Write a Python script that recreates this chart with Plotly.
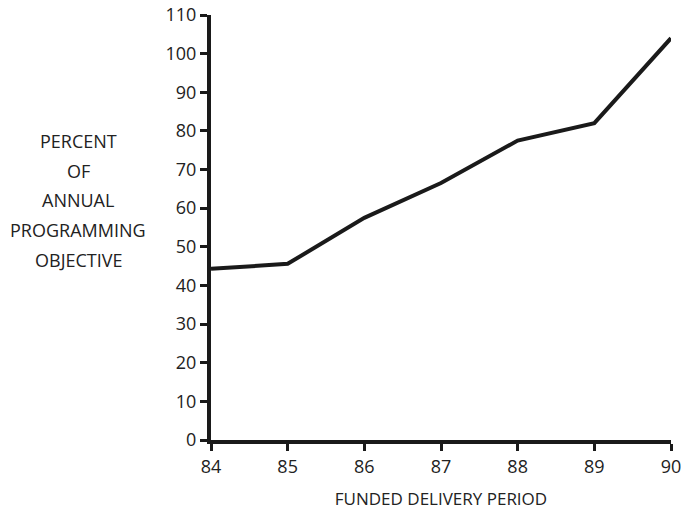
import plotly.graph_objects as go

periods = [84, 85, 86, 87, 88, 89, 90]
percent = [44.3, 45.6, 57.5, 66.5, 77.5, 82, 104]
y_ticks = list(range(0, 111, 10))
y_label_lines = ["PERCENT", "OF", "ANNUAL", "PROGRAMMING", "OBJECTIVE"]

FONT = dict(family="Open Sans, Noto Sans, Arial, sans-serif", size=18, color="#222222")

fig = go.Figure(go.Scatter(
    x=periods, y=percent, mode="lines",
    line=dict(color="#1a1a1a", width=4),
    cliponaxis=False, hoverinfo="skip"
))

fig.update_layout(
    width=682, height=511,
    margin=dict(l=211, r=11, t=15, b=71),
    paper_bgcolor="white", plot_bgcolor="white",
    font=FONT, showlegend=False,
    xaxis=dict(
        range=[84, 90], tickvals=periods, ticks="outside", ticklen=7, tickwidth=3,
        tickcolor="#1a1a1a", showline=True, linecolor="#1a1a1a", linewidth=4,
        showgrid=False, zeroline=False, tickfont=FONT, automargin=False,
        ticklabeloverflow="allow",
        title=dict(text="FUNDED DELIVERY PERIOD", font=dict(FONT, size=17), standoff=18),
    ),
    yaxis=dict(
        range=[0, 110], tickvals=y_ticks, ticks="outside", ticklen=7, tickwidth=3,
        tickcolor="#1a1a1a", showline=True, linecolor="#1a1a1a", linewidth=4,
        showgrid=False, zeroline=False, tickfont=FONT, automargin=False,
        ticklabeloverflow="allow",
    ),
)

# multi-line y label, one annotation per line (~30px spacing)
for i, txt in enumerate(y_label_lines):
    fig.add_annotation(
        text=txt, xref="paper", yref="paper",
        x=-0.289, y=0.704 - i * 0.07, xanchor="center", yanchor="middle",
        showarrow=False, font=dict(FONT, size=18),
    )

# drop the default 8px body margin so the figure fills the window
fig.write_html(
    "out.html",
    config={"displayModeBar": False},
    post_script="document.body.style.margin='0';document.body.style.overflow='hidden';",
)
